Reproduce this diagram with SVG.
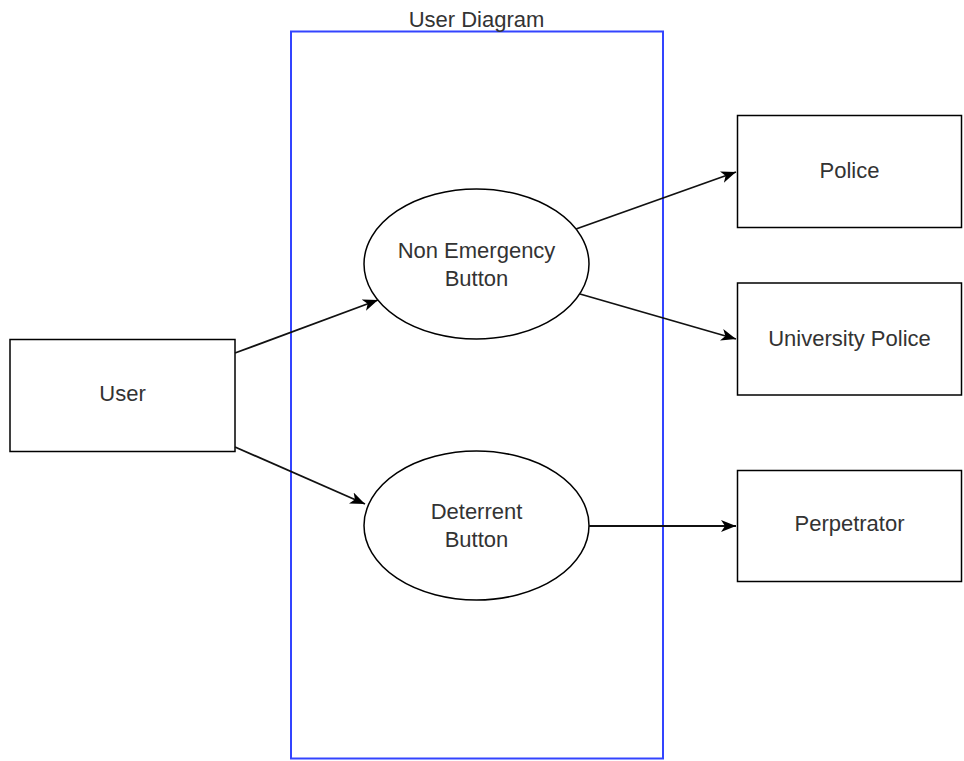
<svg xmlns="http://www.w3.org/2000/svg" width="964" height="761" viewBox="0 0 964 761">
  <defs>
    <style>
      .box { fill: #ffffff; stroke: #000000; stroke-width: 1.5; }
      .frame { fill: none; stroke: #3344ff; stroke-width: 2; }
      .lbl { font-family: "Liberation Sans", Arial, sans-serif; font-size: 22px; fill: #333333; text-anchor: middle; }
      .edge { fill: none; stroke: #111111; stroke-width: 1.8; marker-end: url(#arr); }
    </style>
    <marker id="arr" markerUnits="userSpaceOnUse" markerWidth="16" markerHeight="14" viewBox="0 0 16 14" refX="15" refY="7" orient="auto">
      <path d="M0,1 L15,7 L0,13 L4,7 Z" fill="#000000"/>
    </marker>
  </defs>
  <rect width="964" height="761" fill="#ffffff"/>

  <g id="frame">
    <rect class="frame" x="291" y="31.5" width="372" height="727"/>
    <text class="lbl" x="476.5" y="27">User Diagram</text>
  </g>

  <g id="user">
    <rect class="box" x="10" y="339.5" width="225" height="112"/>
    <text class="lbl" x="122.5" y="401">User</text>
  </g>

  <g id="non-emergency">
    <ellipse class="box" cx="476.5" cy="264" rx="112.5" ry="75"/>
    <text class="lbl" x="476.5" y="258">Non Emergency</text>
    <text class="lbl" x="476.5" y="286">Button</text>
  </g>

  <g id="deterrent">
    <ellipse class="box" cx="476.5" cy="525.5" rx="112.5" ry="74.5"/>
    <text class="lbl" x="476.5" y="519">Deterrent</text>
    <text class="lbl" x="476.5" y="547">Button</text>
  </g>

  <g id="police">
    <rect class="box" x="737.5" y="115.5" width="224" height="112"/>
    <text class="lbl" x="849.5" y="178">Police</text>
  </g>

  <g id="university-police">
    <rect class="box" x="737.5" y="283" width="224" height="112"/>
    <text class="lbl" x="849.5" y="346">University Police</text>
  </g>

  <g id="perpetrator">
    <rect class="box" x="737.5" y="470.5" width="224" height="111"/>
    <text class="lbl" x="849.5" y="531">Perpetrator</text>
  </g>

  <g id="connectors">
    <line class="edge" x1="235" y1="353" x2="378" y2="300"/>
    <line class="edge" x1="235" y1="447" x2="365" y2="504"/>
    <line class="edge" x1="576" y1="229" x2="736" y2="172"/>
    <line class="edge" x1="580" y1="294" x2="736" y2="339"/>
    <line class="edge" x1="589" y1="526" x2="736" y2="526"/>
  </g>
</svg>
